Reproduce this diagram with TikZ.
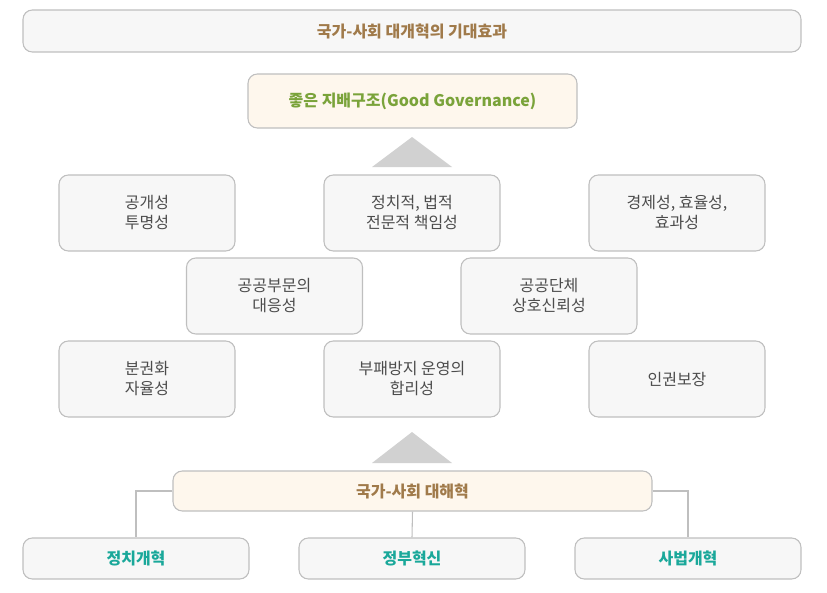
\documentclass[tikz,border=0pt]{standalone}
\usepackage{fontspec}
\setmainfont{Noto Sans CJK KR}
\begin{document}
\begin{tikzpicture}[x=0.75pt,y=-0.75pt,
  box/.style={draw=black!25,line width=0.8pt,rounded corners=7pt,fill=black!3,align=center,inner sep=0pt,text=black!70,font=\fontsize{12}{15}\selectfont},
  cream/.style={box,fill=yellow!8!orange!6,draw=black!25},
  brown/.style={text={rgb,255:red,160;green,122;blue,74},font=\bfseries\fontsize{12}{14}\selectfont},
  teal/.style={text={rgb,255:red,26;green,168;blue,154},font=\bfseries\fontsize{12}{14}\selectfont},
  conn/.style={draw=black!25,line width=0.8pt},
  tri/.style={fill=black!18,draw=none}]
\useasboundingbox (0,0) rectangle (827,592);
\node[box,brown,minimum width=778*0.75pt,minimum height=42*0.75pt] (top) at (412,31) {국가-사회 대개혁의 기대효과};
\node[cream,minimum width=329*0.75pt,minimum height=54*0.75pt,text={rgb,255:red,122;green,163;blue,58},font=\bfseries\fontsize{12}{14}\selectfont] (good) at (412.5,101) {좋은 지배구조(Good Governance)};
\fill[tri] (412,137) -- (452,167) -- (372,167) -- cycle;
\fill[tri] (412,432) -- (452,463) -- (372,463) -- cycle;
\tikzset{sb/.style={box,minimum width=176*0.75pt,minimum height=76*0.75pt}}
\node[sb] (a1) at (147,213) {공개성\\투명성};
\node[sb] (a2) at (412,213) {정치적, 법적\\전문적 책임성};
\node[sb] (a3) at (677,213) {경제성, 효율성,\\효과성};
\node[sb] (b1) at (274.5,296) {공공부문의\\대응성};
\node[sb] (b2) at (549,296) {공공단체\\상호신뢰성};
\node[sb] (c1) at (147,379) {분권화\\자율성};
\node[sb] (c2) at (412,379) {부패방지 운영의\\합리성};
\node[sb] (c3) at (677,379) {인권보장};
\node[cream,brown,minimum width=479*0.75pt,minimum height=40*0.75pt] (rev) at (412.5,491) {국가-사회 대해혁};
\tikzset{bb/.style={box,teal,minimum width=226*0.75pt,minimum height=41*0.75pt}}
\node[bb] (d1) at (136,558.5) {정치개혁};
\node[bb] (d2) at (412,558.5) {정부혁신};
\node[bb] (d3) at (688,558.5) {사법개혁};
\draw[conn] (rev.west) -| (d1.north);
\draw[conn] (rev.east) -| (d3.north);
\draw[conn] (rev.south) -- (d2.north);
\end{tikzpicture}
\end{document}
